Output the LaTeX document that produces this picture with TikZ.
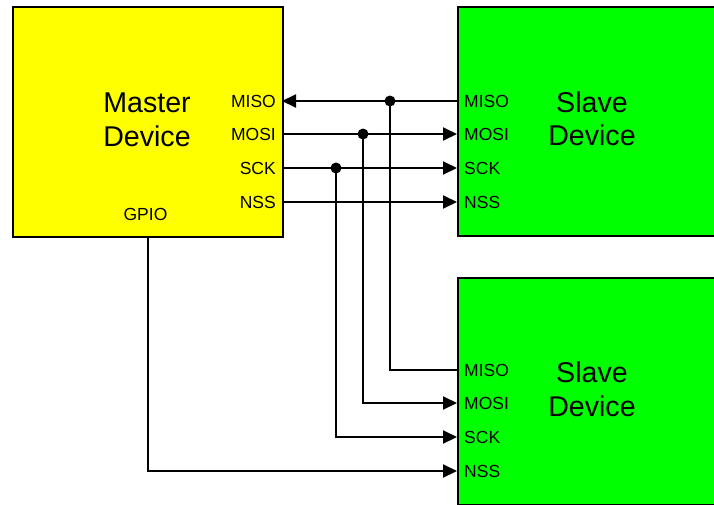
\documentclass[tikz,border=0pt]{standalone}
\usepackage{fontspec}
\setmainfont{Liberation Sans}
\usetikzlibrary{arrows.meta}
\definecolor{mastercol}{HTML}{FFFF00}
\definecolor{slavecol}{HTML}{00FF00}
\tikzset{
  box/.style={draw=black, line width=2pt, rectangle, inner sep=0pt, anchor=north west},
  title/.style={align=center, inner sep=0pt, font=\fontsize{28.6}{33.5}\selectfont},
  pinlbl/.style={inner sep=0pt, font=\fontsize{17.5}{20}\selectfont},
  wire/.style={line width=2pt, draw=black},
  tip/.tip={Triangle[length=14pt,width=13pt]},
  dot/.style={circle, fill=black, minimum size=11pt, inner sep=0pt}
}
\begin{document}
\begin{tikzpicture}[x=1pt,y=-1pt]
\useasboundingbox (0,0) rectangle (714,504);
\clip (0,0) rectangle (714,504);
% boxes
\node[box, fill=mastercol, minimum width=270pt, minimum height=230pt] (master) at (12,6) {};
\node[box, fill=slavecol, minimum width=280pt, minimum height=229pt] (slave1) at (457,6) {};
\node[box, fill=slavecol, minimum width=280pt, minimum height=226.5pt] (slave2) at (457,277) {};
% titles
\node[title] (mtitle) at (147,120) {Master\\Device};
\node[title] (s1title) at (592,119) {Slave\\Device};
\node[title] (s2title) at (592,389.5) {Slave\\Device};
% master pin labels
\node[pinlbl, anchor=east] (mlMISO) at (276,101) {MISO};
\node[pinlbl, anchor=east] (mlMOSI) at (276,134) {MOSI};
\node[pinlbl, anchor=east] (mlSCK) at (276,168) {SCK};
\node[pinlbl, anchor=east] (mlNSS) at (276,202) {NSS};
\node[pinlbl] (mlGPIO) at (145.5,214.5) {GPIO};
% slave 1 pin labels
\node[pinlbl, anchor=west] (s1lMISO) at (464,101) {MISO};
\node[pinlbl, anchor=west] (s1lMOSI) at (464,134) {MOSI};
\node[pinlbl, anchor=west] (s1lSCK) at (464,168) {SCK};
\node[pinlbl, anchor=west] (s1lNSS) at (464,202) {NSS};
% slave 2 pin labels
\node[pinlbl, anchor=west] (s2lMISO) at (464,370) {MISO};
\node[pinlbl, anchor=west] (s2lMOSI) at (464,403) {MOSI};
\node[pinlbl, anchor=west] (s2lSCK) at (464,437) {SCK};
\node[pinlbl, anchor=west] (s2lNSS) at (464,471) {NSS};
% pin coordinates
\coordinate (mMISO) at (282,101);
\coordinate (mMOSI) at (282,134);
\coordinate (mSCK) at (282,168);
\coordinate (mNSS) at (282,202);
\coordinate (mGPIO) at (148,236);
\coordinate (s1MISO) at (457,101);
\coordinate (s1MOSI) at (457,134);
\coordinate (s1SCK) at (457,168);
\coordinate (s1NSS) at (457,202);
\coordinate (s2MISO) at (457,370);
\coordinate (s2MOSI) at (457,403);
\coordinate (s2SCK) at (457,437);
\coordinate (s2NSS) at (457,471);
% junction dots
\node[dot] (jMISO) at (390,101) {};
\node[dot] (jMOSI) at (363,134) {};
\node[dot] (jSCK) at (336,168) {};
% wires
\draw[wire, -{tip}] (s1MISO) -- (mMISO);
\draw[wire, -{tip}] (mMOSI) -- (s1MOSI);
\draw[wire, -{tip}] (mSCK) -- (s1SCK);
\draw[wire, -{tip}] (mNSS) -- (s1NSS);
\draw[wire] (jMISO.center) |- (s2MISO);
\draw[wire, -{tip}] (jMOSI.center) |- (s2MOSI);
\draw[wire, -{tip}] (jSCK.center) |- (s2SCK);
\draw[wire, -{tip}] (mGPIO) |- (s2NSS);
\end{tikzpicture}
\end{document}
